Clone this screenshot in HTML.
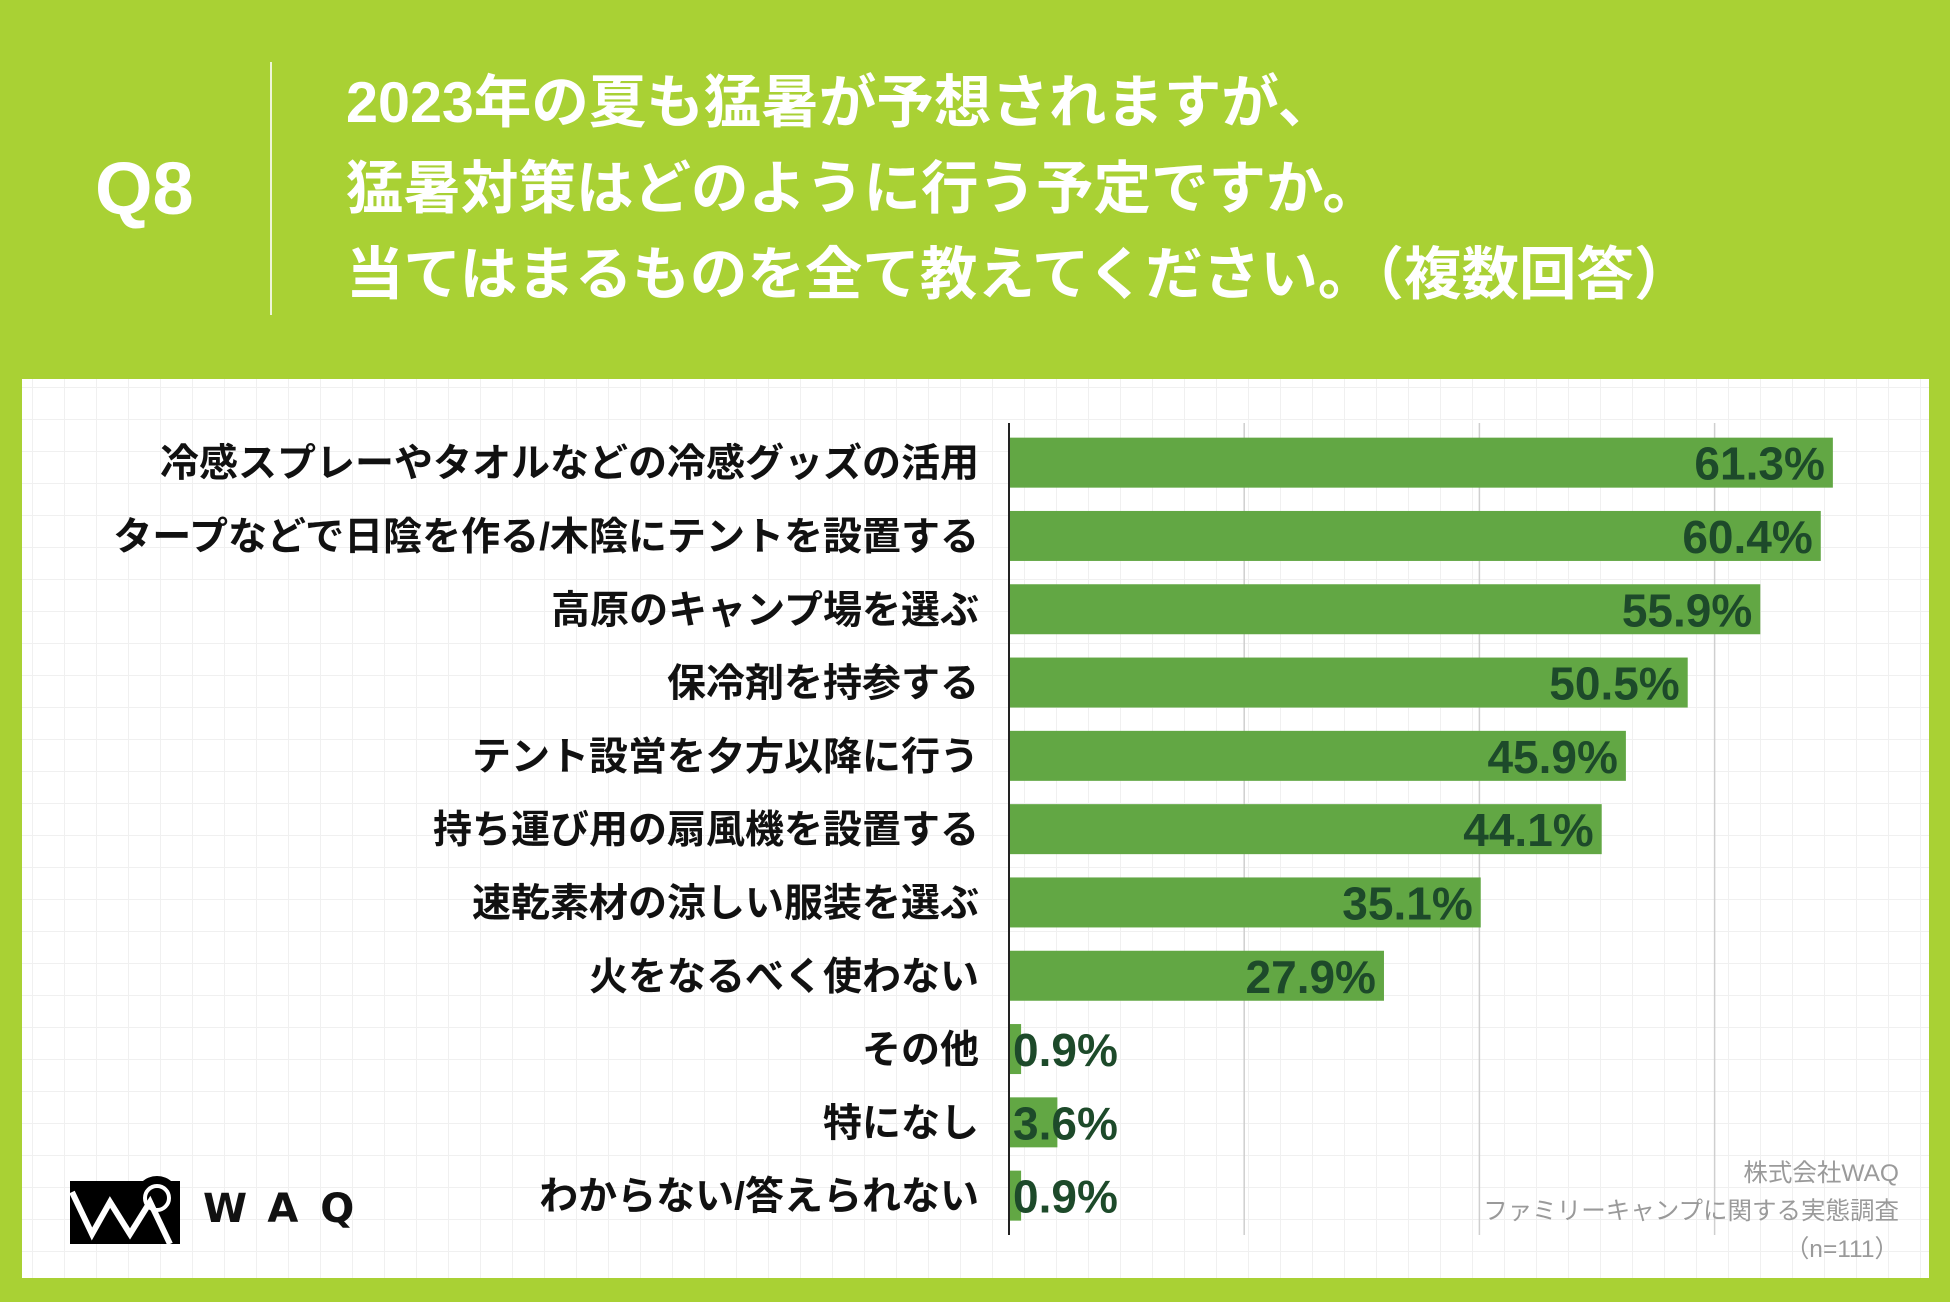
<!DOCTYPE html>
<html><head><meta charset="utf-8">
<style>
html,body{margin:0;padding:0}
body{width:1950px;height:1302px;background:#a9d134;position:relative;overflow:hidden;font-family:"Liberation Sans","Noto Sans CJK JP",sans-serif}
.abs{position:absolute}
#panel{left:22px;top:379px;width:1907px;height:899px;background-color:#fff;
background-image:linear-gradient(to right,#f0f0f0 1px,transparent 1px),linear-gradient(to bottom,#f0f0f0 1px,transparent 1px);background-size:32px 32px;background-position:10px 8px}
.title{left:346px;color:#fff;font-weight:bold;font-size:57.5px;white-space:nowrap;line-height:1}
</style></head><body>
<div class="abs" style="left:95px;top:152px;color:#fff;font-weight:bold;font-size:74px;line-height:1">Q8</div>
<div class="abs" style="left:270px;top:62px;width:2px;height:253px;background:#eef6d8"></div>
<div class="abs title" style="top:75px">2023年の夏も猛暑が予想されますが、</div>
<div class="abs title" style="top:161px">猛暑対策はどのように行う予定ですか。</div>
<div class="abs title" style="top:247px">当てはまるものを全て教えてください。（複数回答）</div>
<div class="abs" id="panel"></div>
<svg class="abs" style="left:0;top:0" width="1950" height="1302" id="chart"></svg>
<div class="abs" style="left:70px;top:1168px;width:300px;height:80px">
<svg width="300" height="80">
<rect x="0" y="13" width="110" height="63" fill="#000"/>
<circle cx="87" cy="30" r="22" fill="#000"/>
<polyline points="2,24 22,66 40,34 60,66 80,34 100,76" fill="none" stroke="#fff" stroke-width="6"/>
<circle cx="87" cy="30" r="12" fill="none" stroke="#fff" stroke-width="4"/>
</svg>
<div class="abs" style="left:133px;top:18px;font-size:40px;font-weight:bold;letter-spacing:22px;color:#111;font-family:'DejaVu Sans',sans-serif">WAQ</div>
</div>
<div class="abs" style="right:51px;top:1155px;text-align:right;color:#9a9a9a;font-size:24.5px;line-height:38px">株式会社WAQ<br>ファミリーキャンプに関する実態調査<br>（n=111）</div>
<script>
const categories=["冷感スプレーやタオルなどの冷感グッズの活用","タープなどで日陰を作る/木陰にテントを設置する","高原のキャンプ場を選ぶ","保冷剤を持参する","テント設営を夕方以降に行う","持ち運び用の扇風機を設置する","速乾素材の涼しい服装を選ぶ","火をなるべく使わない","その他","特になし","わからない/答えられない"];
const values=[61.3,60.4,55.9,50.5,45.9,44.1,35.1,27.9,0.9,3.6,0.9];
const valueLabels=["61.3%","60.4%","55.9%","50.5%","45.9%","44.1%","35.1%","27.9%","0.9%","3.6%","0.9%"];
const gridTicks=[17.5,35,52.5];
const svg=document.getElementById('chart');
const NS="http://www.w3.org/2000/svg";
const x0=1009, pxPer=13.44, rowTop=426, pitch=73.3, barH=50;
const xs=v=>x0+v*pxPer;
const yc=i=>rowTop+pitch*(i+0.5);
function mk(t,a){const e=document.createElementNS(NS,t);for(const k in a)e.setAttribute(k,a[k]);svg.appendChild(e);return e;}
gridTicks.forEach(g=>{
 const l=mk('line',{x1:xs(g),x2:xs(g),y1:423,y2:1235,stroke:'#cfcfcf','stroke-width':1.5});
 
 
});
categories.forEach((c,i)=>{
 const r=mk('rect',{x:x0,y:yc(i)-barH/2,width:values[i]*pxPer,height:barH,fill:'#62a744'});
 
 
 const t=mk('text',{x:979,y:yc(i)+14,'text-anchor':'end','font-size':39,'font-weight':'bold',fill:'#111'});
 t.textContent=c;
 
 
 const inside=values[i]>10;
 const v=mk('text',{x:inside?xs(values[i])-8:x0+4,y:yc(i)+17,'text-anchor':inside?'end':'start','font-size':46,'font-weight':'bold',fill:'#1d4a2a'});
 v.textContent=valueLabels[i];
 
 
});
const ax=mk('line',{x1:x0,x2:x0,y1:423,y2:1235,stroke:'#222','stroke-width':2});


</script>
</body></html>
